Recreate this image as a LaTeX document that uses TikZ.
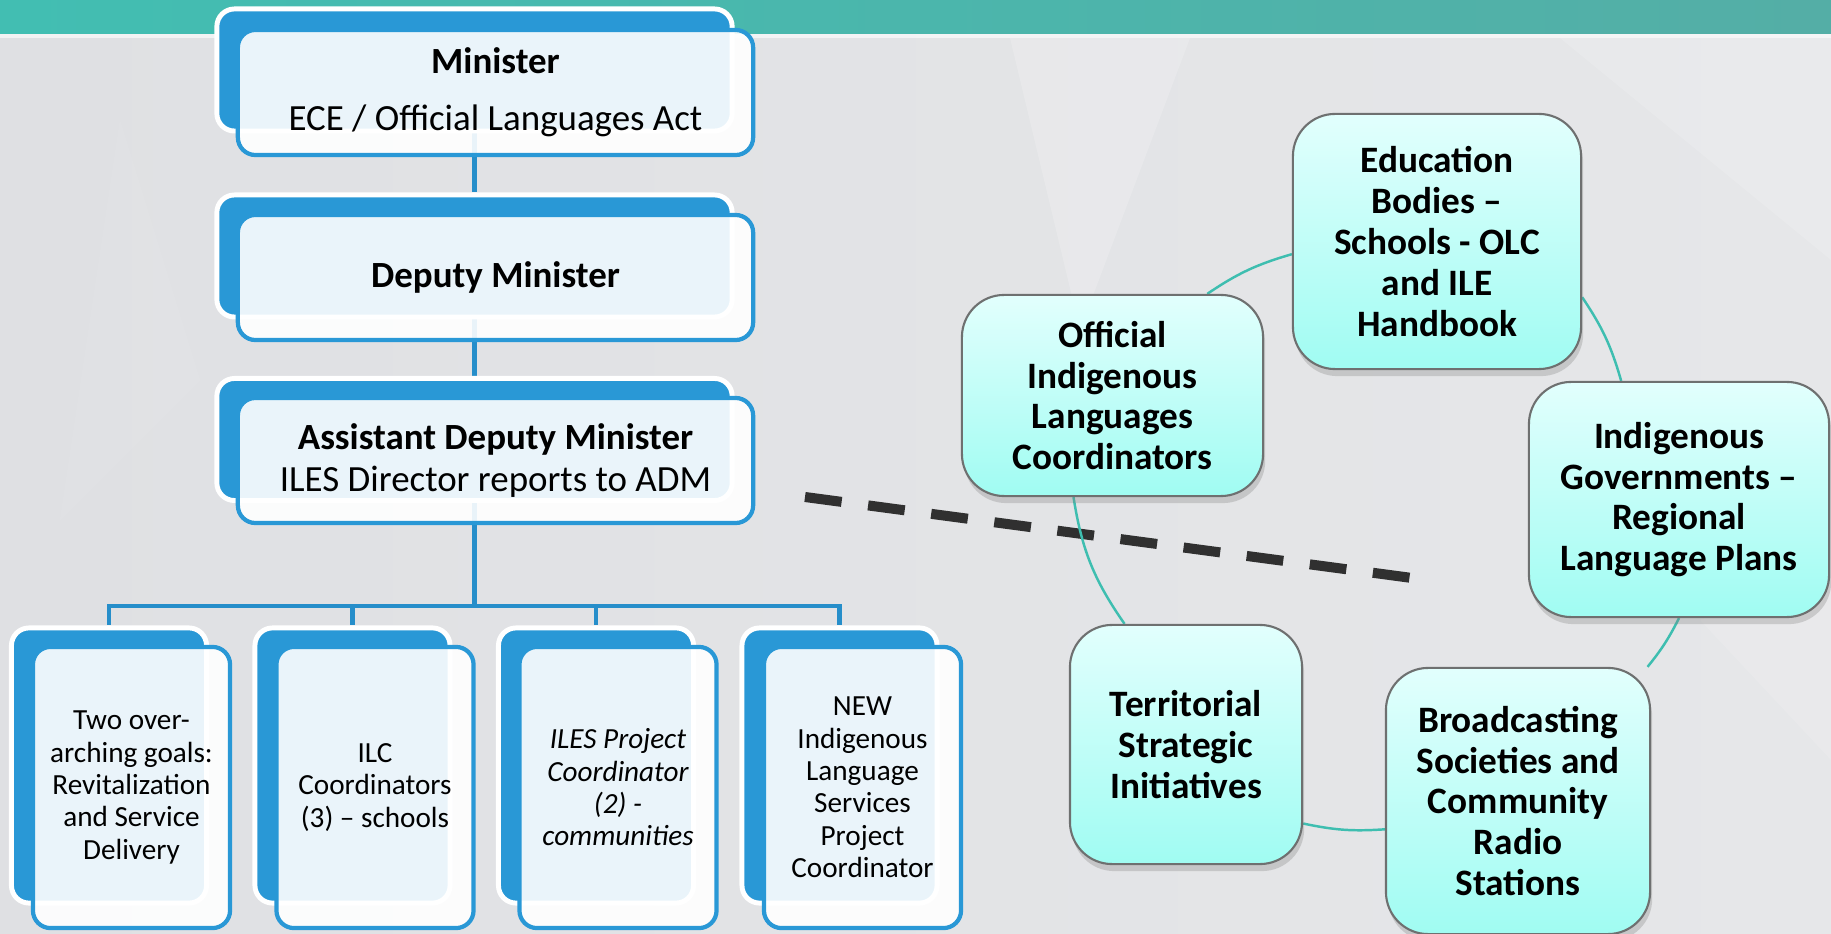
\documentclass[tikz,border=0pt]{standalone}
\usepackage{fontspec}
\setmainfont{Carlito}
\usetikzlibrary{shadows,backgrounds}

\definecolor{orgblue}{RGB}{41,152,214}
\definecolor{linkblue}{RGB}{38,142,202}
\definecolor{bandteal}{RGB}{66,190,178}
\definecolor{banddark}{RGB}{84,174,166}
\definecolor{arcteal}{RGB}{62,190,176}
\definecolor{boxtop}{RGB}{226,255,253}
\definecolor{boxbot}{RGB}{160,252,242}
\definecolor{boxedge}{RGB}{110,112,112}
\definecolor{bgleft}{RGB}{223,224,227}
\definecolor{bgright}{RGB}{230,231,233}
\definecolor{dashgray}{RGB}{48,48,48}

\begin{document}
\begin{tikzpicture}[x=0.01cm,y=-0.01cm,
  backbox/.style={draw=white,line width=1.4pt,fill=orgblue,rounded corners=5pt,
    minimum width=5.15cm,minimum height=1.22cm,inner sep=0pt},
  frontbox/.style={draw=orgblue,line width=1.2pt,fill=white,fill opacity=0.9,text opacity=1,
    rounded corners=5pt,minimum width=5.15cm,minimum height=1.25cm,inner sep=0pt,
    align=center,font=\fontsize{10.5}{11.7}\selectfont},
  smallback/.style={backbox,minimum width=1.95cm,minimum height=2.75cm},
  smallfront/.style={frontbox,minimum width=1.97cm,minimum height=2.81cm,
    font=\fontsize{8.3}{9.2}\selectfont},
  cyclebox/.style={draw=boxedge,line width=0.6pt,rounded corners=12pt,
    top color=boxtop,bottom color=boxbot,
    drop shadow={opacity=0.3,shadow xshift=0.6pt,shadow yshift=-2pt},
    inner sep=0pt,align=center,font=\fontsize{10.6}{11.6}\selectfont\bfseries},
  link/.style={draw=linkblue,line width=1.2pt},
  cyc/.style={draw=arcteal,line width=0.7pt},
  dashline/.style={draw=dashgray,line width=2.85pt,dash pattern=on 10.5pt off 7.6pt}]

\useasboundingbox (0,0) rectangle (1831,934);

\node[backbox] (minB) at (474.5,70) {};
\node[frontbox] (minF) at (495.5,92.5) {\textbf{Minister}\\[4.5pt] ECE / Official Languages Act};
\node[backbox] (depB) at (474.5,256) {};
\node[frontbox] (depF) at (495.5,277.5) {\textbf{Deputy Minister}};
\node[backbox] (admB) at (474.5,439.5) {};
\node[frontbox] (admF) at (495.5,460.5) {\textbf{Assistant Deputy Minister}\\ ILES Director reports to ADM};

\node[smallback] (b1B) at (109,765.5) {};
\node[smallfront] (b1F) at (131.5,787.5) {Two over-\\arching goals:\\Revitalization\\and Service\\Delivery};
\node[smallback] (b2B) at (352.5,765.5) {};
\node[smallfront] (b2F) at (375,787.5) {ILC\\Coordinators\\(3) -- schools};
\node[smallback] (b3B) at (596,765.5) {};
\node[smallfront] (b3F) at (618,787.5) {\itshape ILES Project\\\itshape Coordinator\\\itshape (2) -\\\itshape communities};
\node[smallback] (b4B) at (839.5,765.5) {};
\node[smallfront] (b4F) at (862.5,787.5) {NEW\\Indigenous\\Language\\Services\\Project\\Coordinator};

\node[cyclebox,minimum width=2.88cm,minimum height=2.55cm] (edu) at (1437,241.5) {Education\\Bodies --\\Schools - OLC\\and ILE\\Handbook};
\node[cyclebox,minimum width=3.01cm,minimum height=2.01cm] (off) at (1112.5,395.5) {Official\\Indigenous\\Languages\\Coordinators};
\node[cyclebox,minimum width=3.0cm,minimum height=2.35cm] (igov) at (1679,499.5) {Indigenous\\Governments --\\Regional\\Language Plans};
\node[cyclebox,minimum width=2.32cm,minimum height=2.39cm] (terr) at (1186,744.5) {Territorial\\Strategic\\Initiatives};
\node[cyclebox,minimum width=2.64cm,minimum height=2.66cm] (brd) at (1518,801) {Broadcasting\\Societies and\\Community\\Radio\\Stations};

\begin{pgfonlayer}{background}
\shade[left color=bgleft,right color=bgright] (0,0) rectangle (1831,934);
\shade[left color=bandteal,right color=banddark] (0,0) rectangle (1831,34);
\fill[white,opacity=0.6] (0,34) rectangle (1831,38);
\fill[white,opacity=0.18] (1010,38) -- (1190,38) -- (1080,330) -- cycle;
\fill[white,opacity=0.15] (1560,38) -- (1831,38) -- (1831,260) -- cycle;
\fill[white,opacity=0.12] (1700,620) -- (1831,560) -- (1831,760) -- cycle;
\fill[white,opacity=0.06] (120,120) -- (200,380) -- (60,520) -- cycle;

\draw[link] (minB.south) -- (depB.north);
\draw[link] (depB.south) -- (admB.north);
\coordinate (bus) at (474.5,606);
\draw[link] (admB.south) -- (bus);
\draw[link] (bus) -| (b1B.north);
\draw[link] (bus) -| (b2B.north);
\draw[link] (bus) -| (b3B.north);
\draw[link] (bus) -| (b4B.north);

\coordinate (dashA) at (805,497);
\coordinate (dashB) at (1412,578);
\draw[dashline] (dashA) -- (dashB);

\draw[cyc] (off.47.6) to[bend left=9] (edu.185.5);
\draw[cyc] (edu.-21.5) to[bend left=9] (igov.116);
\draw[cyc] (igov.south) to[bend left=6] (brd.46.5);
\draw[cyc] (brd.192.8) to[bend left=8] (terr.-34.3);
\draw[cyc] (terr.117.3) to[bend left=13] (off.249.4);
\end{pgfonlayer}
\end{tikzpicture}
\end{document}
